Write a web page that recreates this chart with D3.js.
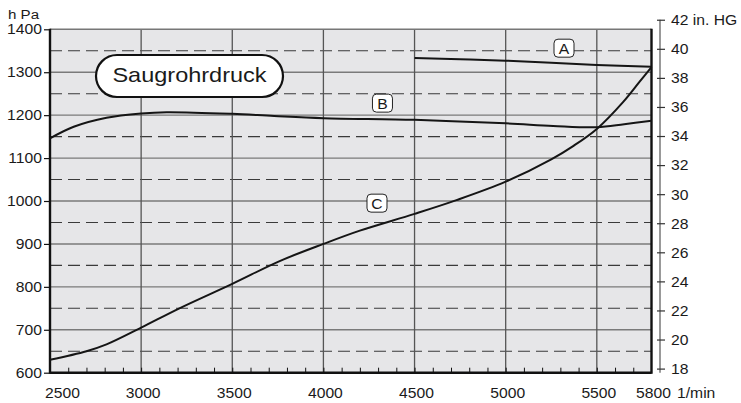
<!DOCTYPE html>
<html>
<head>
<meta charset="utf-8">
<script src="https://cdn.jsdelivr.net/npm/d3@7"></script>
<style>
  html, body { margin: 0; padding: 0; background: #ffffff; }
  svg { display: block; }
  text { font-family: "Liberation Sans", Arial, sans-serif; fill: #1a1a1a; }
</style>
</head>
<body>
<svg id="chart" width="741" height="403"></svg>
<script>
// Engine speed (1/min) and intake manifold pressure (hPa) for the three curves
const rpmA = [4500, 4750, 5000, 5250, 5500, 5800];
const hpaA = [1333, 1330, 1327, 1322, 1317, 1313];

const rpmB = [2500, 2630, 2810, 3000, 3140, 3500, 3730, 4000, 4500, 5000, 5260, 5500, 5650, 5800];
const hpaB = [1146, 1173, 1194, 1204, 1207, 1203, 1198, 1193, 1189, 1181, 1175, 1172, 1179, 1187];

const rpmC = [2500, 2700, 2810, 3000, 3210, 3500, 3760, 4000, 4200, 4500, 4730, 5000, 5250, 5370, 5500, 5645, 5735, 5800];
const hpaC = [630, 650, 666, 705, 750, 807, 860, 900, 931, 970, 1002, 1045, 1097, 1128, 1168, 1231, 1278, 1312];

// Axis ticks
const rpmLabels = [2500, 3000, 3500, 4000, 4500, 5000, 5500, 5800];
const rpmGrid = [3000, 3500, 4000, 4500, 5000, 5500];
const hpaTicks = [600, 700, 800, 900, 1000, 1100, 1200, 1300, 1400];
const hpaSolid = [700, 800, 900, 1000, 1100, 1200, 1300];
const hpaDashed = [650, 750, 850, 950, 1050, 1150, 1250, 1350];
const inHgTicks = [18, 20, 22, 24, 26, 28, 30, 32, 34, 36, 38, 40, 42];
const HPA_PER_INHG = 33.8639;

const curveNames = ["A", "B", "C"];
const curveTags = [[5320, 1356], [4324, 1228], [4294, 995]];

const svg = d3.select("#chart");
const SX = 1.12; // horizontal stretch of the lettering

const pLeft = 50, pRight = 651.5, pTop = 29.3, pBottom = 372.7;
const x = d3.scaleLinear().domain([2500, 5800]).range([pLeft, pRight]);
const y = d3.scaleLinear().domain([600, 1400]).range([pBottom, pTop]);
const yIn = d3.scaleLinear()
  .domain([600 / HPA_PER_INHG, 1400 / HPA_PER_INHG])
  .range([pBottom, pTop]);

function label(g, px, py, str, size, anchor) {
  return g.append("text")
    .attr("transform", `translate(${px},${py}) scale(${SX},1)`)
    .attr("text-anchor", anchor || "start")
    .attr("dy", "0.35em")
    .attr("font-size", size)
    .text(str);
}

// Plot background
svg.append("rect")
  .attr("x", pLeft).attr("y", pTop)
  .attr("width", pRight - pLeft).attr("height", pBottom - pTop)
  .attr("fill", "#e6e6e8");

// Grid
const grid = svg.append("g");
grid.selectAll("line.hs").data(hpaSolid).join("line")
  .attr("x1", pLeft).attr("x2", pRight)
  .attr("y1", d => y(d)).attr("y2", d => y(d))
  .attr("stroke", "#7a7a7a").attr("stroke-width", 1.4);
grid.selectAll("line.hd").data(hpaDashed).join("line")
  .attr("x1", pLeft).attr("x2", pRight)
  .attr("y1", d => y(d)).attr("y2", d => y(d))
  .attr("stroke", "#3a3a3a").attr("stroke-width", 1.1)
  .attr("stroke-dasharray", "12,6");
grid.selectAll("line.v").data(rpmGrid).join("line")
  .attr("x1", d => x(d)).attr("x2", d => x(d))
  .attr("y1", pTop).attr("y2", pBottom)
  .attr("stroke", "#555").attr("stroke-width", 1.3);

// Top border
svg.append("line")
  .attr("x1", pLeft).attr("x2", pRight).attr("y1", pTop).attr("y2", pTop)
  .attr("stroke", "#777").attr("stroke-width", 1.4);

// Minor speed ticks along the bottom edge
const minor = d3.range(2600, 5800, 100);
const bAxis = svg.append("g")
  .attr("transform", `translate(0,${pBottom})`)
  .call(d3.axisBottom(x).tickValues(minor).tickSize(-5).tickFormat(""));
bAxis.select(".domain").remove();
bAxis.selectAll("line").attr("stroke", "#111").attr("stroke-width", 1);

// Left axis ticks
const lAxis = svg.append("g")
  .attr("transform", `translate(${pLeft},0)`)
  .call(d3.axisLeft(y).tickValues(hpaTicks).tickSize(6).tickFormat(""));
lAxis.select(".domain").remove();
lAxis.selectAll("line").attr("stroke", "#111").attr("stroke-width", 1.2);

// Frame lines: left, bottom, right
svg.append("line").attr("x1", pLeft).attr("x2", pLeft).attr("y1", pTop - 0.5).attr("y2", pBottom + 1)
  .attr("stroke", "#111").attr("stroke-width", 2.4);
svg.append("line").attr("x1", pLeft).attr("x2", pRight).attr("y1", pBottom).attr("y2", pBottom)
  .attr("stroke", "#111").attr("stroke-width", 2.4);
svg.append("line").attr("x1", pRight).attr("x2", pRight).attr("y1", pTop - 0.5).attr("y2", pBottom + 1)
  .attr("stroke", "#111").attr("stroke-width", 2.4);

// Left tick labels and unit
const texts = svg.append("g");
hpaTicks.forEach(v => label(texts, 42, y(v), String(v), 14, "end"));
label(texts, 8, 14.5, "h Pa", 13.5, "start");

// Bottom tick labels
rpmLabels.forEach(v => {
  if (v === 2500) label(texts, 45, 393, String(v), 14, "start");
  else label(texts, x(v) + 2, 393, String(v), 14, "middle");
});
label(texts, 677, 393, "1/min", 14, "start");

// Right inHg axis
const rX = 660;
svg.append("line").attr("x1", rX).attr("x2", rX)
  .attr("y1", yIn(42)).attr("y2", pBottom)
  .attr("stroke", "#555").attr("stroke-width", 1.2);
const rAxis = svg.append("g")
  .attr("transform", `translate(${rX - 3},0)`)
  .call(d3.axisRight(yIn).tickValues(inHgTicks).tickSize(8).tickFormat(""));
rAxis.select(".domain").remove();
rAxis.selectAll("line").attr("stroke", "#333").attr("stroke-width", 1.2);
inHgTicks.forEach(v => label(texts, 671, yIn(v) + 0.5, v === 42 ? "42 in. HG" : String(v), 14, "start"));

// Curves
const line = d3.line()
  .x(d => x(d[0])).y(d => y(d[1]))
  .curve(d3.curveCatmullRom.alpha(0.5));
const series = [
  d3.zip(rpmA, hpaA),
  d3.zip(rpmB, hpaB),
  d3.zip(rpmC, hpaC)
];
svg.append("g").selectAll("path").data(series).join("path")
  .attr("d", line)
  .attr("fill", "none")
  .attr("stroke", "#151515")
  .attr("stroke-width", 2);

// Curve tags
curveNames.forEach((n, i) => {
  const cx = x(curveTags[i][0]), cy = y(curveTags[i][1]);
  svg.append("rect")
    .attr("x", cx - 10).attr("y", cy - 9)
    .attr("width", 20).attr("height", 18)
    .attr("rx", 4)
    .attr("fill", "#fff").attr("stroke", "#222").attr("stroke-width", 1);
  label(svg, cx, cy + 0.5, n, 14, "middle");
});

// Title badge
svg.append("rect")
  .attr("x", 96).attr("y", 55).attr("width", 187).attr("height", 42)
  .attr("rx", 21)
  .attr("fill", "#fff").attr("stroke", "#111").attr("stroke-width", 2.2);
label(svg, 189.5, 75, "Saugrohrdruck", 21, "middle");
</script>
</body>
</html>
